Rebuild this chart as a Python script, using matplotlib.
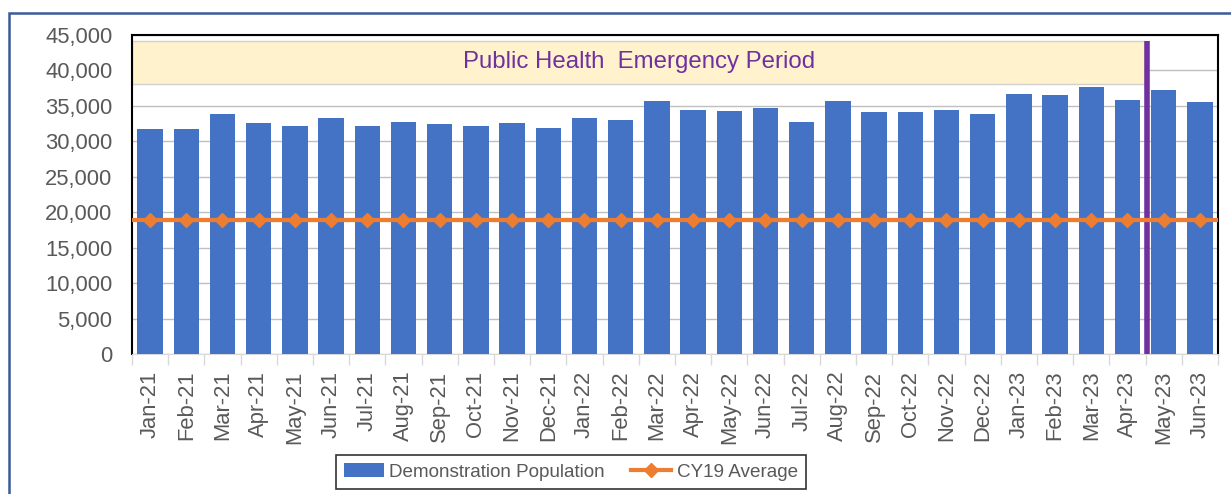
import matplotlib
matplotlib.use("Agg")
import matplotlib.pyplot as plt
from matplotlib.patches import Rectangle
import numpy as np

plt.rcParams['font.family'] = ['Liberation Sans', 'DejaVu Sans']

months = ['Jan-21', 'Feb-21', 'Mar-21', 'Apr-21', 'May-21', 'Jun-21', 'Jul-21', 'Aug-21',
          'Sep-21', 'Oct-21', 'Nov-21', 'Dec-21', 'Jan-22', 'Feb-22', 'Mar-22', 'Apr-22',
          'May-22', 'Jun-22', 'Jul-22', 'Aug-22', 'Sep-22', 'Oct-22', 'Nov-22', 'Dec-22',
          'Jan-23', 'Feb-23', 'Mar-23', 'Apr-23', 'May-23', 'Jun-23']
population = [31750, 31750, 33850, 32600, 32150, 33250, 32150, 32800,
              32400, 32150, 32600, 31950, 33250, 33000, 35750, 34450,
              34250, 34700, 32800, 35750, 34100, 34100, 34450, 33850,
              36750, 36550, 37600, 35900, 37200, 35500]
cy19_avg = [18900] * len(months)

pheLabel = 'Public Health  Emergency Period'
pheEnd = 27.5      # band runs through Apr-23
pheBand = (38100, 44200)

BLUE = '#4472C4'
ORANGE = '#ED7D31'
PURPLE = '#7030A0'
GREY = '#595959'

fig = plt.figure(figsize=(12.31, 4.94), dpi=100)
ax = fig.add_axes([0.1072, 0.2834, 0.8822, 0.6457])

x = np.arange(len(months))

# band + divider
ax.add_patch(Rectangle((-0.5, pheBand[0]), pheEnd + 0.5, pheBand[1] - pheBand[0],
                       facecolor='#FFF2CC', edgecolor='#D0D0D0', lw=1, zorder=1))
ax.text((pheEnd - 0.5) / 2, (pheBand[0] + pheBand[1]) / 2, pheLabel, color=PURPLE,
        fontsize=17.3, ha='center', va='center', zorder=2)
ax.plot([pheEnd + 0.05, pheEnd + 0.05], [0, 44100], color=PURPLE, lw=4, zorder=4,
        solid_capstyle='butt')

bars = ax.bar(x, population, width=0.7, color=BLUE, zorder=3, label='Demonstration Population')
line, = ax.plot(x, cy19_avg, color=ORANGE, lw=3, marker='D', markersize=7, zorder=5,
                label='CY19 Average')
ax.axhline(cy19_avg[0], color=ORANGE, lw=3, zorder=5)

ax.set_xlim(-0.5, len(months) - 0.5)
ax.set_ylim(0, 45000)
ax.set_yticks(np.arange(0, 45001, 5000))
ax.set_yticklabels(['{:,}'.format(v) for v in range(0, 45001, 5000)])
ax.yaxis.grid(True, color='#BFBFBF', lw=1)
ax.set_axisbelow(True)

ax.set_xticks(x)
ax.set_xticklabels(months, rotation=90)
ax.set_xticks(np.arange(-0.5, len(months), 1), minor=True)
ax.tick_params(axis='x', which='major', length=0, pad=12, labelsize=15.8, labelcolor=GREY)
ax.tick_params(axis='x', which='minor', length=8, color='#D9D9D9', width=1)
ax.tick_params(axis='y', length=0, pad=14, labelsize=15.8, labelcolor=GREY)

for s in ['left', 'top', 'right']:
    ax.spines[s].set_color('black')
    ax.spines[s].set_linewidth(1.5)
ax.spines['bottom'].set_color('#D9D9D9')

leg = fig.legend(handles=[bars, line], loc='center', ncol=2,
                 bbox_to_anchor=(571 / 1231, 1 - 472 / 494), fontsize=13.6,
                 frameon=True, fancybox=False, edgecolor='black',
                 handlelength=2.1, handletextpad=0.3, columnspacing=1.4, borderpad=0.45)
leg.get_frame().set_linewidth(1.2)
for t in leg.get_texts():
    t.set_color(GREY)

# outer chart frame
fig.patches.append(Rectangle((9 / 1231, -0.05), 1.1, 1 - 13 / 494 + 0.05,
                             transform=fig.transFigure, fill=False,
                             edgecolor='#3A5A9A', lw=1.8))

plt.savefig('out.png', dpi=100)
